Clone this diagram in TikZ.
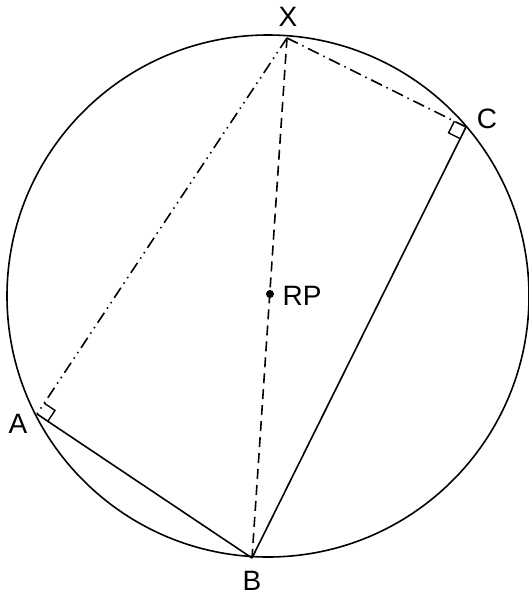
\documentclass[tikz,border=0pt]{standalone}
\usepackage{fontspec}
\setmainfont{Liberation Sans}
\usetikzlibrary{calc}
\begin{document}
\begin{tikzpicture}[x=1pt,y=-1pt,
  ln/.style={line width=1.6pt},
  lbl/.style={font=\fontsize{28}{32}\selectfont, inner sep=0pt},
  dsh/.style={ln, dash pattern=on 10pt off 6pt},
  dshdot/.style={ln, dash pattern=on 12pt off 5pt on 1.5pt off 5pt},
  dshdotdot/.style={ln, dash pattern=on 12pt off 5pt on 1.5pt off 5pt on 1.5pt off 5pt}]
\useasboundingbox (0,0) rectangle (529,598);
\coordinate (O) at (268,296);
\coordinate (X) at (287,38);
\coordinate (C) at (466,127);
\coordinate (A) at (37,414);
\coordinate (B) at (252,558);
\coordinate (RP) at (270,294);
\draw[ln] (O) circle (261pt);
\draw[dsh] (X) -- (B);
\draw[dshdot] (X) -- (C);
\draw[dshdotdot] (X) -- (A);
\draw[ln] (A) -- (B);
\draw[ln] (B) -- (C);
% right angle markers
\coordinate (a1) at ($(A)!13pt!(X)$);
\coordinate (a2) at ($(A)!13pt!(B)$);
\draw[line width=1.4pt] (a1) -- ($(a1)+(a2)-(A)$) -- (a2);
\coordinate (c1) at ($(C)!13pt!(X)$);
\coordinate (c2) at ($(C)!13pt!(B)$);
\draw[line width=1.4pt] (c1) -- ($(c1)+(c2)-(C)$) -- (c2);
\fill (RP) circle (4pt);
\node[lbl] (lX) at (288,17) {X};
\node[lbl] (lC) at (487,119) {C};
\node[lbl] (lA) at (18,424) {A};
\node[lbl] (lB) at (252,581) {B};
\node[lbl] (lRP) at (302,296) {RP};
\end{tikzpicture}
\end{document}
